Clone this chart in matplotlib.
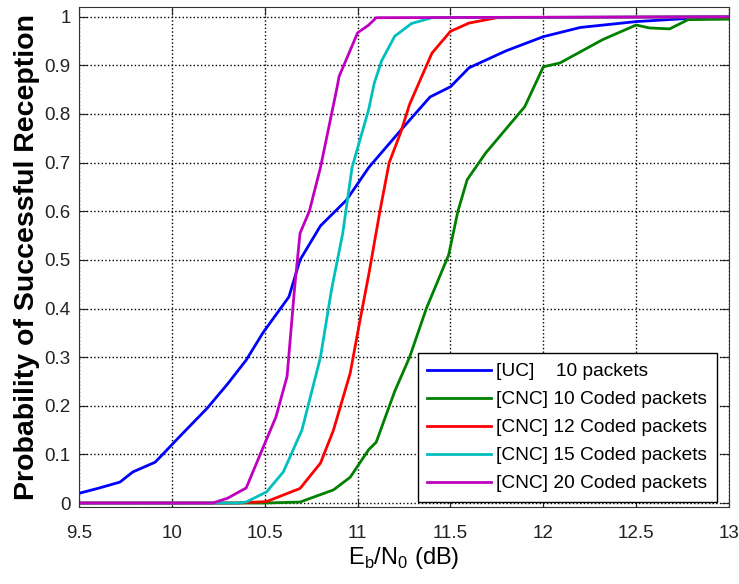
import numpy as np
import matplotlib
matplotlib.use("Agg")
import matplotlib.pyplot as plt

plt.rcParams['font.family'] = ['Liberation Sans', 'DejaVu Sans']

# [UC] 10 packets
uc_x = [9.5, 9.6, 9.72, 9.79, 9.91, 9.95, 10.05, 10.19, 10.3, 10.4, 10.49, 10.63,
        10.69, 10.8, 10.94, 11.06, 11.24, 11.39, 11.5, 11.6, 11.8, 12.0, 12.2,
        12.5, 12.8, 13.0]
uc_y = [0.02, 0.03, 0.043, 0.064, 0.084, 0.10, 0.14, 0.195, 0.245, 0.294, 0.35, 0.424,
        0.50, 0.57, 0.623, 0.69, 0.77, 0.835, 0.856, 0.895, 0.93, 0.959, 0.978,
        0.99, 0.997, 0.998]

# [CNC] 10 coded packets
c10_x = [9.5, 10.5, 10.69, 10.87, 10.96, 11.06, 11.1, 11.2, 11.28, 11.37, 11.49,
         11.54, 11.59, 11.69, 11.9, 12.0, 12.09, 12.32, 12.5, 12.57, 12.68, 12.78, 13.0]
c10_y = [0.0, 0.0, 0.002, 0.027, 0.053, 0.11, 0.125, 0.23, 0.30, 0.40, 0.51,
         0.60, 0.665, 0.72, 0.815, 0.897, 0.905, 0.953, 0.983, 0.977, 0.975, 0.994, 0.995]

# [CNC] 12 coded packets
c12_x = [9.5, 10.35, 10.51, 10.69, 10.8, 10.87, 10.96, 11.01, 11.06, 11.12, 11.17,
         11.23, 11.28, 11.4, 11.5, 11.6, 11.75, 13.0]
c12_y = [0.0, 0.0, 0.003, 0.03, 0.082, 0.15, 0.267, 0.37, 0.47, 0.60, 0.70,
         0.76, 0.82, 0.925, 0.97, 0.987, 0.998, 1.0]

# [CNC] 15 coded packets
c15_x = [9.5, 10.35, 10.4, 10.51, 10.6, 10.7, 10.8, 10.86, 10.92, 10.97, 11.06,
         11.09, 11.13, 11.2, 11.29, 11.4, 13.0]
c15_y = [0.0, 0.0, 0.002, 0.023, 0.064, 0.15, 0.30, 0.44, 0.555, 0.69, 0.81,
         0.864, 0.91, 0.96, 0.986, 0.998, 1.0]

# [CNC] 20 coded packets
c20_x = [9.5, 10.22, 10.3, 10.4, 10.47, 10.56, 10.62, 10.66, 10.69, 10.74, 10.8,
         10.89, 10.9, 11.0, 11.06, 11.1, 13.0]
c20_y = [0.0, 0.0, 0.01, 0.031, 0.095, 0.177, 0.26, 0.44, 0.555, 0.60, 0.69,
         0.856, 0.877, 0.967, 0.983, 0.998, 1.0]

labels = ['[UC]    10 packets', '[CNC] 10 Coded packets', '[CNC] 12 Coded packets',
          '[CNC] 15 Coded packets', '[CNC] 20 Coded packets']
colors = ['#0000ff', '#008000', '#ff0000', '#00bfbf', '#bf00bf']

fig = plt.figure(figsize=(7.39, 5.84), dpi=100)
ax = fig.add_axes([0.107, 0.132, 0.8795, 0.856])

series = [(uc_x, uc_y), (c10_x, c10_y), (c12_x, c12_y), (c15_x, c15_y), (c20_x, c20_y)]
for (x, y), c, lab in zip(series, colors, labels):
    ax.plot(x, y, color=c, lw=2, label=lab)

ax.set_xlim(9.5, 13)
ax.set_ylim(-0.008, 1.02)
ax.set_xticks(np.arange(9.5, 13.01, 0.5))
ax.set_xticklabels(['9.5', '10', '10.5', '11', '11.5', '12', '12.5', '13'])
ax.set_yticks(np.arange(0, 1.01, 0.1))
ax.set_yticklabels(['0', '0.1', '0.2', '0.3', '0.4', '0.5', '0.6', '0.7', '0.8', '0.9', '1'])
ax.tick_params(direction='in', top=True, right=True, labelsize=13.5, length=6,
               colors='#222222')
ax.tick_params(axis='x', pad=13)
ax.tick_params(axis='y', pad=6)
ax.grid(True, linestyle=':', color='black', lw=1)
for s in ax.spines.values():
    s.set_color('#333333')

ax.set_xlabel('E$_\\mathregular{b}$/N$_\\mathregular{0}$ (dB)', fontsize=17, labelpad=2)
ax.set_ylabel('Probability of Successful Reception', fontsize=20.5, fontweight='bold',
              labelpad=3)

leg = ax.legend(loc='lower right', fontsize=13.8, fancybox=False, edgecolor='black',
                framealpha=1, handlelength=3.3, handletextpad=0.3, borderpad=0.5,
                labelspacing=0.55, borderaxespad=0, bbox_to_anchor=(0.9815, 0.01))
leg.get_frame().set_linewidth(1)

fig.savefig('out.png', dpi=100)
